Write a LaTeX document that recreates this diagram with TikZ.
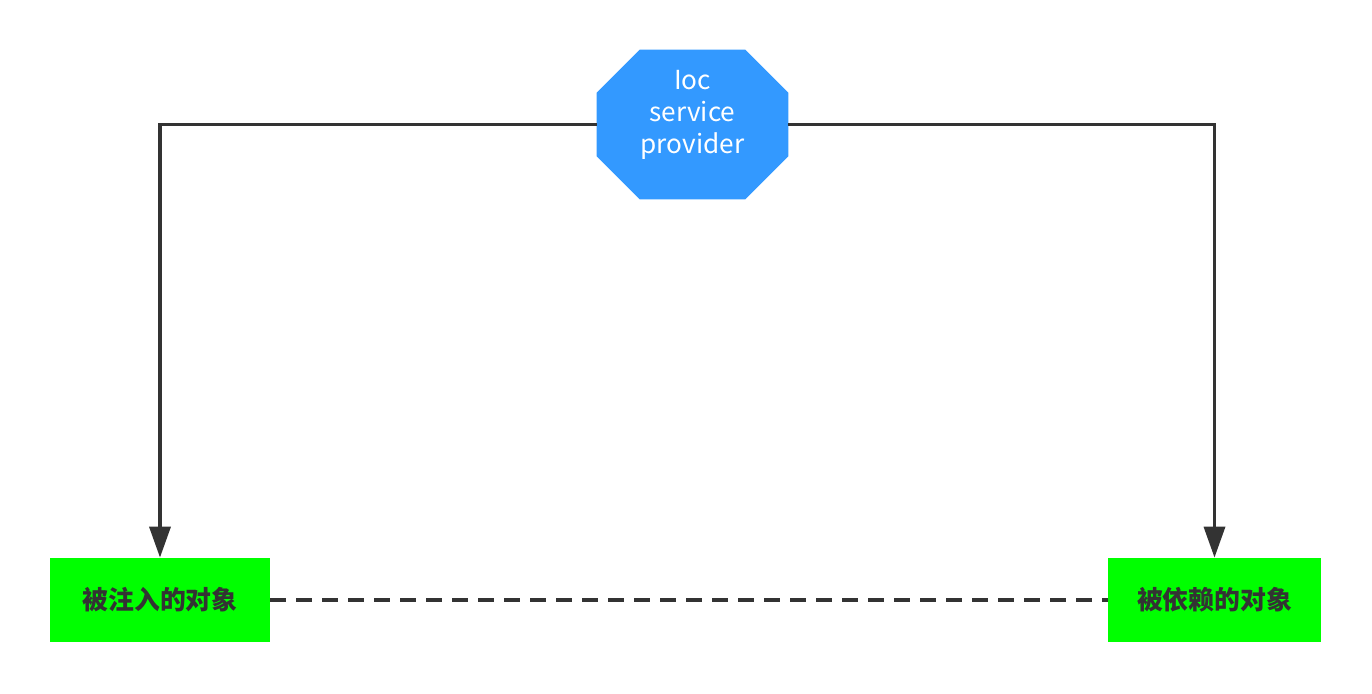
\documentclass[tikz,border=0pt]{standalone}
\usepackage{fontspec}
\setmainfont{Noto Sans CJK SC}
\usepackage{xcolor}
\usepackage{tikz}
\usetikzlibrary{arrows.meta}

\definecolor{iocblue}{HTML}{3399FF}
\definecolor{objgreen}{HTML}{00FF00}
\definecolor{linegray}{HTML}{333333}

\begin{document}
\begin{tikzpicture}
	\useasboundingbox (0,0) rectangle (27.44,13.88);
	\tikzstyle{conn}=[draw=linegray,line width=2pt,-{Triangle[length=0.62cm,width=0.42cm]}]
	\tikzstyle{obj}=[fill=objgreen,text=linegray,font=\fontsize{14.7}{17}\selectfont\bfseries,minimum height=1.68cm,inner sep=0pt]
	% octagon provider
	\node[minimum width=3.82cm,minimum height=2.98cm,inner sep=0pt] (ioc) at (13.85,11.39) {};
	\fill[iocblue] ([xshift=0.86cm]ioc.north west) -- ([xshift=-0.86cm]ioc.north east)
		-- ([yshift=-0.86cm]ioc.north east) -- ([yshift=0.86cm]ioc.south east)
		-- ([xshift=-0.86cm]ioc.south east) -- ([xshift=0.86cm]ioc.south west)
		-- ([yshift=0.86cm]ioc.south west) -- ([yshift=-0.86cm]ioc.north west) -- cycle;
	\node[text=white,align=center,font=\fontsize{14.9}{18.2}\selectfont] (ioctext) at ([yshift=0.2cm]ioc) {Ioc\\service\\provider};
	% objects
	\node[obj,minimum width=4.4cm] (inj) at (3.2,1.88) {\raisebox{-0.06cm}{被注入的对象}};
	\node[obj,minimum width=4.26cm] (dep) at (24.29,1.88) {\raisebox{-0.06cm}{被依赖的对象}};
	\draw[conn] (ioc.west) -| (inj.north);
	\draw[conn] (ioc.east) -| (dep.north);
	\draw[draw=linegray,line width=2pt,dash pattern=on 0.32cm off 0.2cm] (inj.east) -- (dep.west);
\end{tikzpicture}
\end{document}
